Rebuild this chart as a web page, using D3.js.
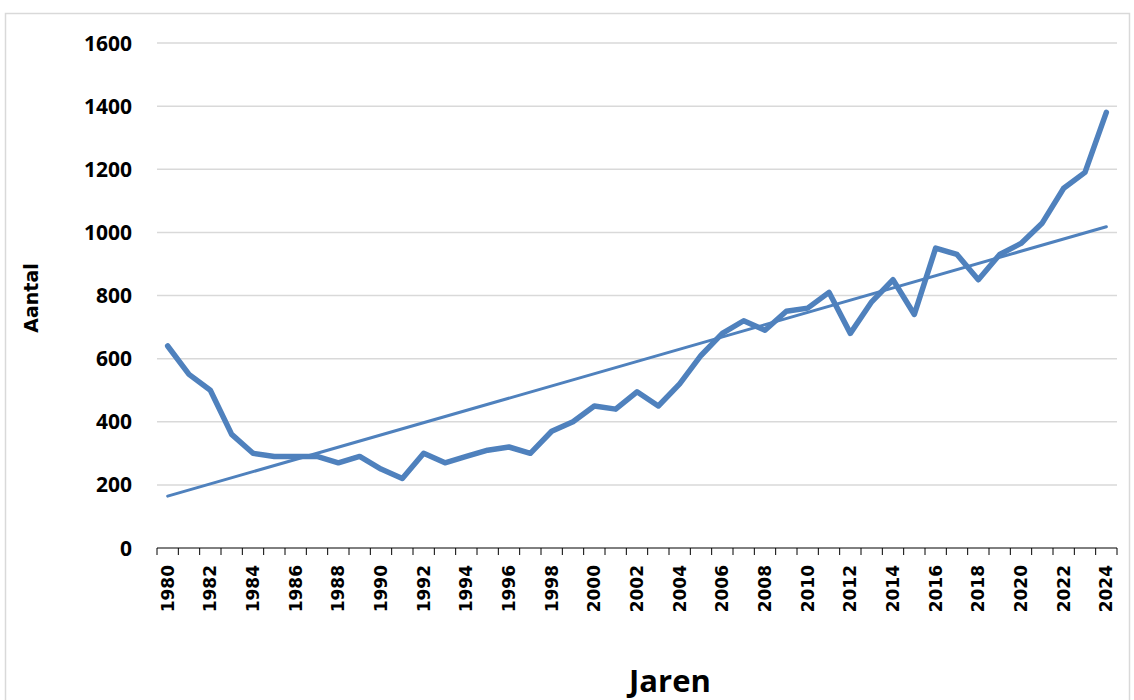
<!DOCTYPE html>
<html>
<head>
<meta charset="utf-8">
<script src="https://cdn.jsdelivr.net/npm/d3@7"></script>
<style>
  body { margin: 0; background: #fff; }
</style>
</head>
<body>
<div id="chart"></div>
<script>
const years = d3.range(1980, 2025);
const values = [
  640, 550, 500, 360, 300, 290, 290, 290, 270, 290,
  250, 220, 300, 270, 290, 310, 320, 300, 370, 400,
  450, 440, 495, 450, 520, 610, 680, 720, 690, 750,
  760, 810, 680, 780, 850, 740, 950, 930, 850, 930,
  965, 1030, 1140, 1190, 1380
];
const yTicks = [0, 200, 400, 600, 800, 1000, 1200, 1400, 1600];

const width = 1134;
const height = 700;
const BLUE = '#4f81bd';

const margin = { left: 157, right: 17, top: 43, bottom: 152 };

const svg = d3.select('#chart').append('svg')
  .attr('width', width)
  .attr('height', height);

// chart frame
svg.append('rect')
  .attr('x', 5.5)
  .attr('y', 13.5)
  .attr('width', 1124)
  .attr('height', 700)
  .attr('fill', 'none')
  .attr('stroke', '#d9d9d9')
  .attr('stroke-width', 1.5);

const plotW = width - margin.left - margin.right;
const plotH = height - margin.top - margin.bottom;

const group = svg.append('g')
  .attr('transform', `translate(${margin.left}, ${margin.top})`);

const x = d3.scaleBand()
  .domain(years)
  .range([0, plotW])
  .padding(0);

const y = d3.scaleLinear()
  .domain([0, 1600])
  .range([plotH, 0]);

// gridlines
group.selectAll('.grid')
  .data(yTicks.filter(d => d > 0))
  .enter()
  .append('line')
  .attr('class', 'grid')
  .attr('x1', 0)
  .attr('x2', plotW)
  .attr('y1', d => y(d))
  .attr('y2', d => y(d))
  .attr('stroke', '#d9d9d9')
  .attr('stroke-width', 1.5);

// y labels
group.selectAll('.ylabel')
  .data(yTicks)
  .enter()
  .append('text')
  .attr('class', 'ylabel')
  .attr('x', -25)
  .attr('y', d => y(d))
  .attr('dy', '0.36em')
  .attr('text-anchor', 'end')
  .attr('font-family', 'Open Sans, sans-serif')
  .attr('font-weight', 'bold')
  .attr('font-size', 21)
  .attr('fill', '#000')
  .text(d => d);

// x axis with ticks at category boundaries
group.append('line')
  .attr('x1', 0)
  .attr('x2', plotW)
  .attr('y1', plotH)
  .attr('y2', plotH)
  .attr('stroke', '#000')
  .attr('stroke-width', 1);

const boundaries = d3.range(years.length + 1);
group.selectAll('.xtick')
  .data(boundaries)
  .enter()
  .append('line')
  .attr('class', 'xtick')
  .attr('x1', i => i * x.bandwidth())
  .attr('x2', i => i * x.bandwidth())
  .attr('y1', plotH)
  .attr('y2', plotH + 7)
  .attr('stroke', '#000')
  .attr('stroke-width', 1);

group.selectAll('.xlabel')
  .data(years.filter(d => d % 2 === 0))
  .enter()
  .append('text')
  .attr('class', 'xlabel')
  .attr('transform', d => `translate(${x(d) + x.bandwidth() / 2}, ${plotH + 17}) rotate(-90)`)
  .attr('dy', '0.36em')
  .attr('text-anchor', 'end')
  .attr('font-family', 'DejaVu Sans, sans-serif')
  .attr('font-weight', 'bold')
  .attr('font-size', 17)
  .attr('fill', '#000')
  .text(d => d);

// data line
const data = years.map((yr, i) => ({ year: yr, value: values[i] }));
const line = d3.line()
  .x(d => x(d.year) + x.bandwidth() / 2)
  .y(d => y(d.value));

group.append('path')
  .datum(data)
  .attr('d', line)
  .attr('fill', 'none')
  .attr('stroke', BLUE)
  .attr('stroke-width', 5.5)
  .attr('stroke-linejoin', 'round')
  .attr('stroke-linecap', 'round');

// linear trendline (least squares, like the spreadsheet)
const n = data.length;
const meanX = d3.mean(data, (d, i) => i);
const meanY = d3.mean(data, d => d.value);
const slope = d3.sum(data, (d, i) => (i - meanX) * (d.value - meanY)) /
  d3.sum(data, (d, i) => (i - meanX) * (i - meanX));
const intercept = meanY - slope * meanX;
const trend = [0, n - 1].map(i => ({ year: years[i], value: intercept + slope * i }));

group.append('path')
  .datum(trend)
  .attr('d', line)
  .attr('fill', 'none')
  .attr('stroke', BLUE)
  .attr('stroke-width', 3)
  .attr('stroke-linecap', 'round');

// axis titles
svg.append('text')
  .attr('transform', 'translate(38, 298) rotate(-90)')
  .attr('text-anchor', 'middle')
  .attr('font-family', 'DejaVu Sans, sans-serif')
  .attr('font-weight', 'bold')
  .attr('font-size', 19)
  .attr('fill', '#000')
  .text('Aantal');

svg.append('text')
  .attr('x', 670)
  .attr('y', 692)
  .attr('text-anchor', 'middle')
  .attr('font-family', 'Open Sans, sans-serif')
  .attr('font-weight', 'bold')
  .attr('font-size', 31)
  .attr('fill', '#000')
  .text('Jaren');
</script>
</body>
</html>
